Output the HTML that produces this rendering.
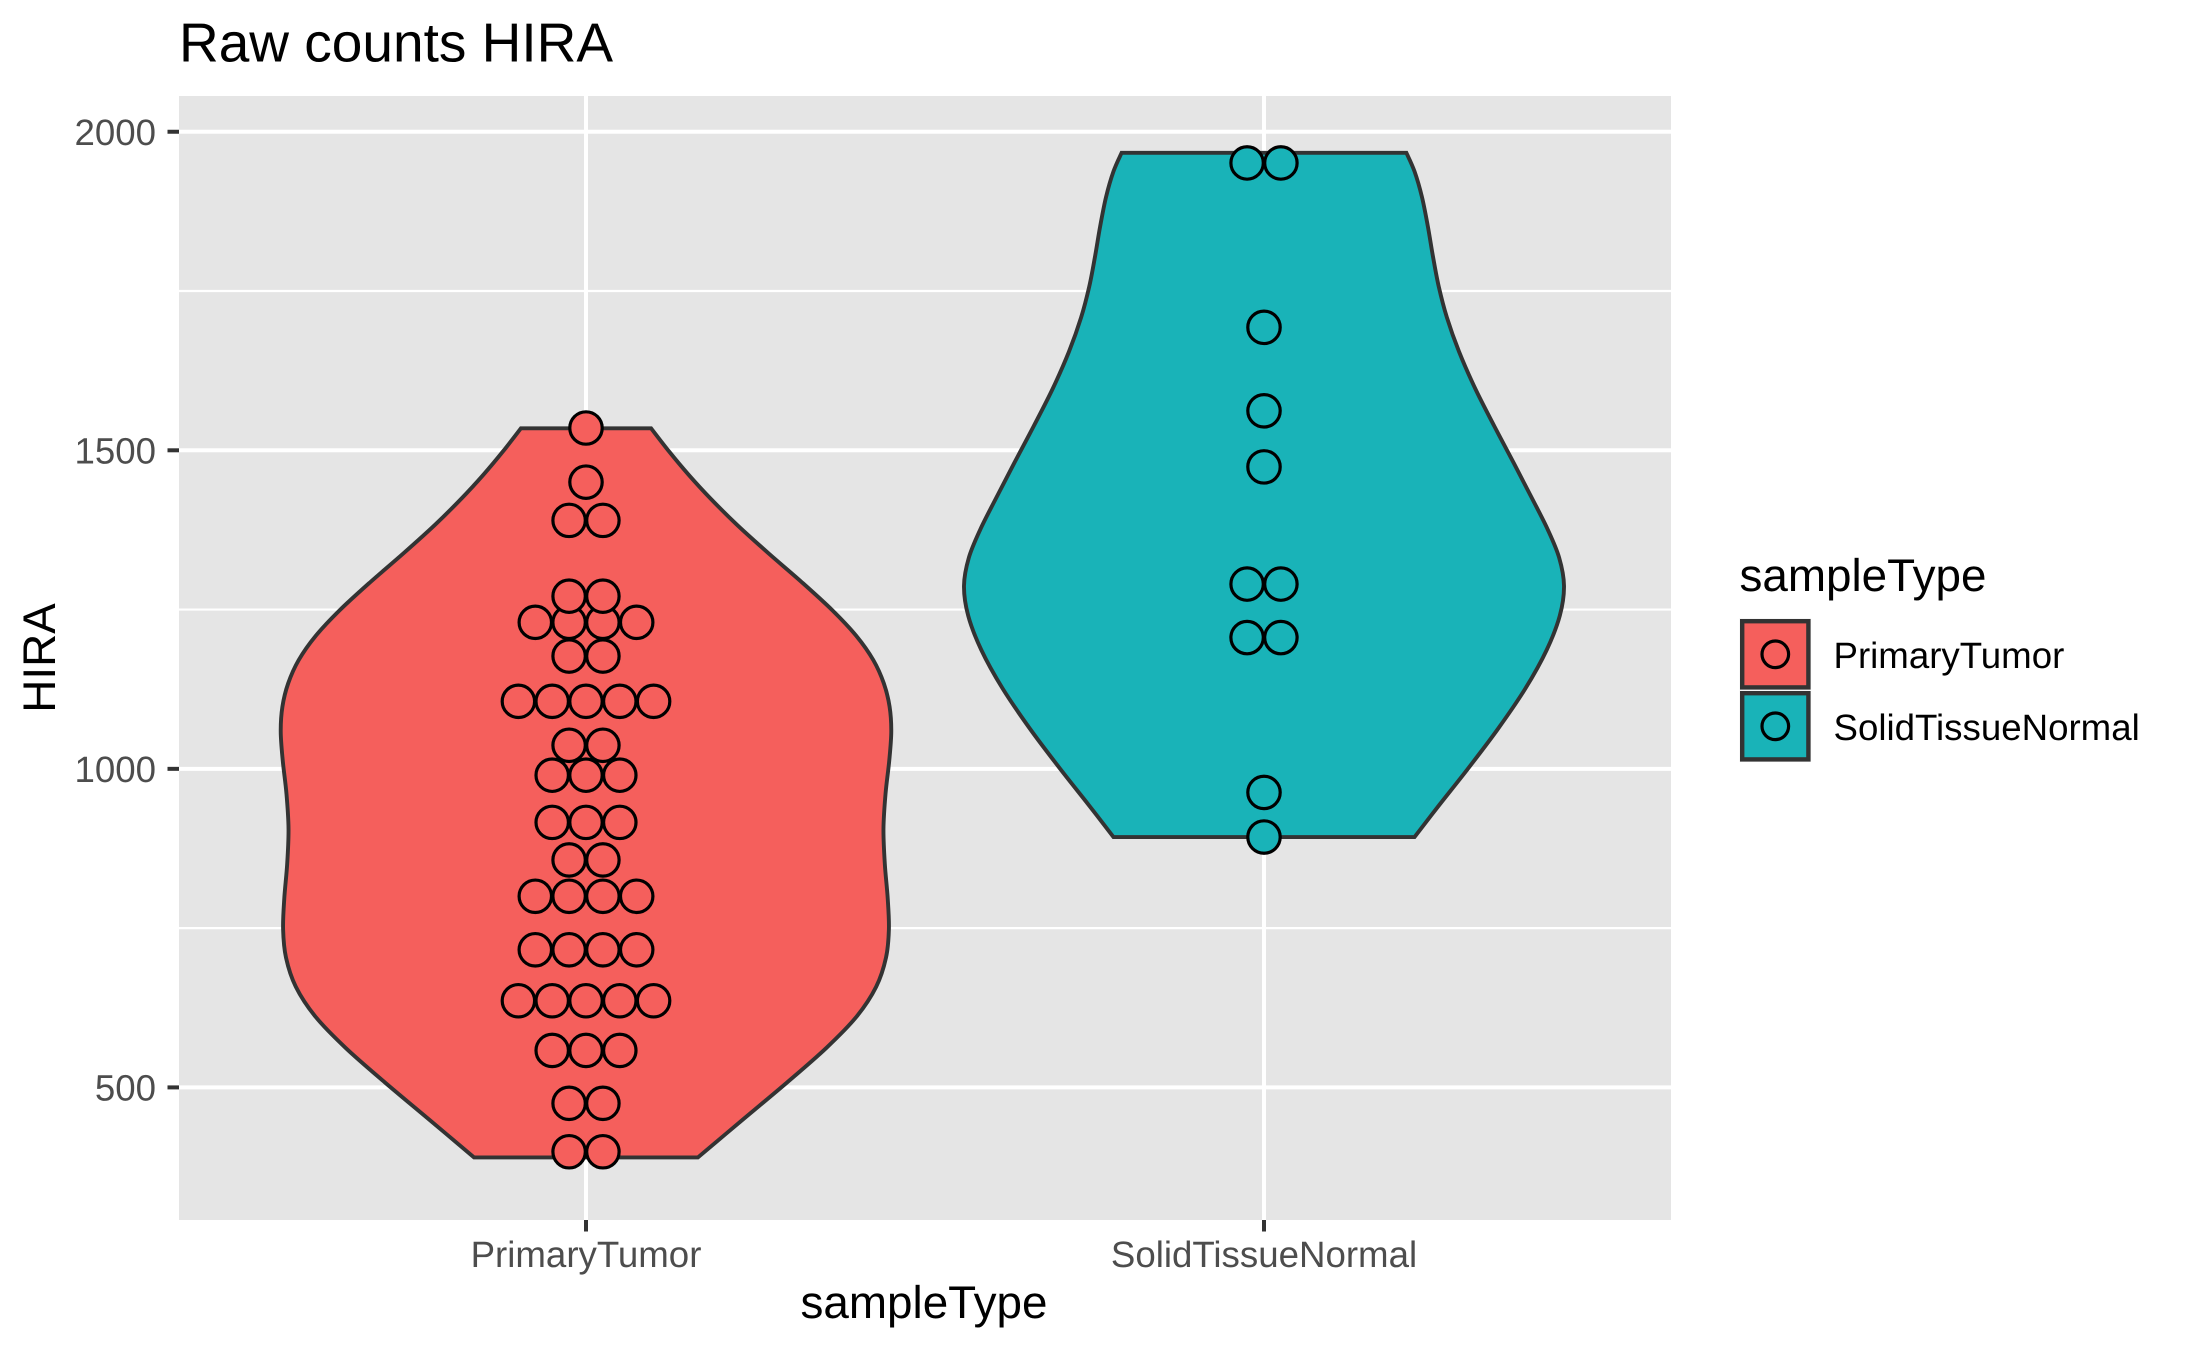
<!DOCTYPE html>
<html lang="en">
<head>
<meta charset="utf-8">
<title>Raw counts HIRA</title>
<style>
  html, body { margin: 0; padding: 0; background: #fff; }
  svg { display: block; font-family: "Liberation Sans", Arial, sans-serif; text-rendering: geometricPrecision; }
</style>
</head>
<body>
<svg id="chart" xmlns="http://www.w3.org/2000/svg" width="2187" height="1351" viewBox="0 0 2187 1351">
  <rect x="0" y="0" width="2187" height="1351" fill="#ffffff"/>
  <rect x="179" y="96" width="1492" height="1124" fill="#E5E5E5"/>
  <g id="grid"></g>
  <g id="violins"></g>
  <g id="dots"></g>
  <g id="axes"></g>

  <text x="179" y="61.5" font-size="55" fill="#000">Raw counts HIRA</text>
  <text x="924" y="1318" font-size="45.8" text-anchor="middle" fill="#000">sampleType</text>
  <text transform="translate(55 658) rotate(-90)" font-size="45.8" text-anchor="middle" fill="#000">HIRA</text>

  <g>
    <text x="1739.5" y="591" font-size="45.8" fill="#000">sampleType</text>

    <g>
      <rect x="1739.5" y="618.3" width="71.6" height="71.6" fill="#F2F2F2"/>
      <rect x="1742.2" y="621.2" width="66.2" height="66.2" fill="#F55F5C" stroke="#333333" stroke-width="4.4"/>
      <circle cx="1775.3" cy="654.3" r="13.3" fill="#F55F5C" stroke="#000" stroke-width="3.2"/>
      <text x="1833.5" y="667.8" font-size="36.67" fill="#000">PrimaryTumor</text>
    </g>

    <g>
      <rect x="1739.5" y="690.3" width="71.6" height="71.6" fill="#F2F2F2"/>
      <rect x="1742.2" y="693.2" width="66.2" height="66.2" fill="#19B3B8" stroke="#333333" stroke-width="4.4"/>
      <circle cx="1775.3" cy="726.3" r="13.3" fill="#19B3B8" stroke="#000" stroke-width="3.2"/>
      <text x="1833.5" y="740" font-size="36.67" fill="#000">SolidTissueNormal</text>
    </g>
  </g>
</svg>

<script>
// ---- data ----
const categories = ['PrimaryTumor', 'SolidTissueNormal'];
const yMajorTicks = [500, 1000, 1500, 2000];
const yMinorTicks = [750, 1250, 1750];

// violin outlines: HIRA value and half-width (in category-axis units)
const tumorViolinValues = [390, 449, 509, 564, 611, 658, 705, 747, 794, 852, 904, 962, 1014, 1061, 1098, 1134, 1171, 1207, 1247, 1294, 1338, 1384, 1427, 1461, 1498, 1534.5];
const tumorViolinWidths = [0.165, 0.230, 0.299, 0.358, 0.403, 0.432, 0.445, 0.448, 0.446, 0.440, 0.437, 0.441, 0.448, 0.452, 0.449, 0.441, 0.426, 0.402, 0.367, 0.318, 0.269, 0.220, 0.181, 0.151, 0.122, 0.096];
const normalViolinValues = [893, 941, 998, 1061, 1129, 1187, 1244, 1286, 1333, 1375, 1422, 1480, 1537, 1597, 1657, 1710, 1757, 1804, 1851, 1898, 1943, 1967];
const normalViolinWidths = [0.222, 0.256, 0.300, 0.345, 0.389, 0.420, 0.439, 0.447, 0.437, 0.420, 0.396, 0.369, 0.340, 0.310, 0.286, 0.268, 0.257, 0.249, 0.242, 0.234, 0.222, 0.210];

// dot stacks: bin value and number of dots in the bin
const tumorDotValues = [399, 475, 558, 636, 716, 800, 857, 916, 990, 1037, 1106, 1177, 1230, 1271, 1390, 1450, 1535];
const tumorDotCounts = [2, 2, 3, 5, 4, 4, 2, 3, 3, 2, 5, 2, 4, 2, 2, 1, 1];
const normalDotValues = [893, 963, 1206, 1290, 1474, 1562, 1693, 1951];
const normalDotCounts = [1, 1, 2, 2, 1, 1, 1, 2];

// ---- axis functions ----
function yScale(v) { return 1087.4 - (v - 500) * 0.6371; }
function xScale(c) { return 586 + c * 678; }

const NS = 'http://www.w3.org/2000/svg';
const PANEL = { left: 179, right: 1671, top: 96, bottom: 1220 };
const RED = '#F55F5C', TEAL = '#19B3B8';
const DOT_SPACING = 33.8, DOT_R = 16.2;
const MAJOR_W = 4, MINOR_W = 2.2, OUTLINE_W = 3.9;

function mk(tag, parent, attrs, text) {
  const el = document.createElementNS(NS, tag);
  for (const k in attrs) el.setAttribute(k, attrs[k]);
  if (text !== undefined) el.textContent = text;
  parent.appendChild(el);
  return el;
}

// light 1-2-1 filter to iron out reading noise; end points stay fixed
function relax(arr) {
  return arr.map(function (a, i) {
    if (i === 0 || i === arr.length - 1) return a;
    return (arr[i - 1] + 2 * a + arr[i + 1]) / 4;
  });
}

// smooth open curve through points (Catmull-Rom to Bezier)
function smooth(pts) {
  let d = '';
  for (let i = 0; i < pts.length - 1; i++) {
    const p0 = pts[i - 1] || pts[i], p1 = pts[i], p2 = pts[i + 1], p3 = pts[i + 2] || p2;
    const c1x = p1[0] + (p2[0] - p0[0]) / 6, c1y = p1[1] + (p2[1] - p0[1]) / 6;
    const c2x = p2[0] - (p3[0] - p1[0]) / 6, c2y = p2[1] - (p3[1] - p1[1]) / 6;
    d += ' C' + c1x.toFixed(2) + ' ' + c1y.toFixed(2) + ' ' + c2x.toFixed(2) + ' ' + c2y.toFixed(2) + ' ' + p2[0].toFixed(2) + ' ' + p2[1].toFixed(2);
  }
  return d;
}

function violinPath(catIndex, values, widths) {
  const vals = relax(values), wids = relax(widths);
  const left = vals.map((v, i) => [xScale(catIndex - wids[i]), yScale(v)]);
  const right = vals.map((v, i) => [xScale(catIndex + wids[i]), yScale(v)]).reverse();
  return 'M' + left[0][0].toFixed(2) + ' ' + left[0][1].toFixed(2) + smooth(left) +
         ' L' + right[0][0].toFixed(2) + ' ' + right[0][1].toFixed(2) + smooth(right) + ' Z';
}

// ---- grid ----
const gridG = document.getElementById('grid');
yMinorTicks.forEach(function (v) {
  const line = mk('line', gridG, { x1: PANEL.left, x2: PANEL.right, y1: yScale(v), y2: yScale(v), stroke: '#fff', 'stroke-width': MINOR_W });
  
  
});
yMajorTicks.forEach(function (v) {
  const line = mk('line', gridG, { x1: PANEL.left, x2: PANEL.right, y1: yScale(v), y2: yScale(v), stroke: '#fff', 'stroke-width': MAJOR_W });
  
  
});
categories.forEach(function (c, i) {
  const line = mk('line', gridG, { x1: xScale(i), x2: xScale(i), y1: PANEL.top, y2: PANEL.bottom, stroke: '#fff', 'stroke-width': MAJOR_W });
  
  
});

// ---- violins ----
const violinG = document.getElementById('violins');
const tumorViolin = mk('path', violinG, { d: violinPath(0, tumorViolinValues, tumorViolinWidths), fill: RED, stroke: '#333333', 'stroke-width': OUTLINE_W, 'stroke-linejoin': 'miter' });


const normalViolin = mk('path', violinG, { d: violinPath(1, normalViolinValues, normalViolinWidths), fill: TEAL, stroke: '#333333', 'stroke-width': OUTLINE_W, 'stroke-linejoin': 'miter' });



// ---- dots ----
const dotG = document.getElementById('dots');
function drawDots(catIndex, values, counts, fill, label) {
  values.forEach(function (v, row) {
    const n = counts[row];
    for (let k = 0; k < n; k++) {
      const dot = mk('circle', dotG, {
        cx: xScale(catIndex) + (k - (n - 1) / 2) * DOT_SPACING,
        cy: yScale(v), r: DOT_R, fill: fill, stroke: '#000', 'stroke-width': 3.2
      });
      
      
    }
  });
}
drawDots(0, tumorDotValues, tumorDotCounts, RED, 'primary-tumor');
drawDots(1, normalDotValues, normalDotCounts, TEAL, 'solid-tissue-normal');

// ---- axes ----
const axesG = document.getElementById('axes');
yMajorTicks.forEach(function (v) {
  const tick = mk('line', axesG, { x1: PANEL.left - 11.5, x2: PANEL.left, y1: yScale(v), y2: yScale(v), stroke: '#333333', 'stroke-width': MAJOR_W });
  
  
  const label = mk('text', axesG, { x: 156, y: yScale(v) + 13.2, 'font-size': 36.67, 'text-anchor': 'end', fill: '#4D4D4D' }, String(v));
  
  
});
categories.forEach(function (c, i) {
  const tick = mk('line', axesG, { x1: xScale(i), x2: xScale(i), y1: PANEL.bottom, y2: PANEL.bottom + 11.5, stroke: '#333333', 'stroke-width': MAJOR_W });
  
  
  const label = mk('text', axesG, { x: xScale(i), y: 1267, 'font-size': 36.67, 'text-anchor': 'middle', fill: '#4D4D4D' }, c);
  
  
});
</script>
</body>
</html>
